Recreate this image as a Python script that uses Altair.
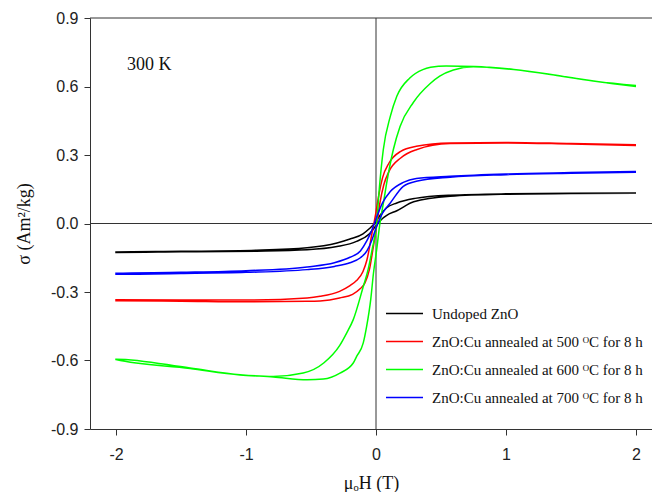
import altair as alt
import pandas as pd

series_names = [
    "Undoped ZnO",
    "ZnO:Cu annealed at 500 ᴼC for 8 h",
    "ZnO:Cu annealed at 600 ᴼC for 8 h",
    "ZnO:Cu annealed at 700 ᴼC for 8 h",
]
series_colors = ["#000000", "#ff0000", "#00ff00", "#0000ff"]

# Undoped ZnO: descending branch (+2 -> -2) then ascending branch (-2 -> +2)
black_desc_x = [2.0, 1.5, 1.0, 0.57, 0.3, 0.16, 0.08, 0.03, 0.0, -0.05, -0.1, -0.2, -0.3, -0.53, -0.92, -1.5, -2.0]
black_desc_y = [0.134, 0.132, 0.130, 0.124, 0.110, 0.090, 0.068, 0.035, 0.008, -0.022, -0.045, -0.068, -0.085, -0.106, -0.117, -0.122, -0.125]
black_asc_x = [-2.0, -1.5, -0.92, -0.53, -0.3, -0.15, -0.05, 0.0, 0.05, 0.08, 0.16, 0.29, 0.57, 1.0, 1.5, 2.0]
black_asc_y = [-0.127, -0.124, -0.121, -0.115, -0.101, -0.078, -0.045, -0.01, 0.022, 0.035, 0.056, 0.095, 0.119, 0.128, 0.131, 0.133]

# 500 C
red_desc_x = [2.0, 1.5, 1.0, 0.57, 0.31, 0.19, 0.1, 0.05, 0.02, 0.0, -0.03, -0.07, -0.1, -0.15, -0.2, -0.28, -0.43, -0.53, -1.0, -1.5, -2.0]
red_desc_y = [0.345, 0.350, 0.355, 0.353, 0.338, 0.316, 0.265, 0.200, 0.120, 0.050, -0.040, -0.160, -0.210, -0.250, -0.272, -0.297, -0.319, -0.326, -0.335, -0.335, -0.334]
red_asc_x = [-2.0, -1.5, -1.0, -0.53, -0.43, -0.28, -0.18, -0.12, -0.085, -0.05, -0.02, 0.0, 0.03, 0.06, 0.1, 0.19, 0.31, 0.57, 1.0, 1.5, 2.0]
red_asc_y = [-0.338, -0.340, -0.343, -0.341, -0.339, -0.326, -0.310, -0.285, -0.260, -0.200, -0.100, -0.030, 0.090, 0.170, 0.228, 0.287, 0.323, 0.350, 0.353, 0.348, 0.342]

# 600 C
green_desc_x = [2.0, 1.7, 1.44, 1.06, 0.76, 0.54, 0.42, 0.36, 0.26, 0.16, 0.11, 0.056, 0.025, 0.005, -0.03, -0.06, -0.1, -0.175, -0.226, -0.28, -0.4, -0.56, -0.79, -1.046, -1.43, -2.0]
green_desc_y = [0.604, 0.622, 0.644, 0.674, 0.688, 0.690, 0.684, 0.674, 0.637, 0.557, 0.469, 0.323, 0.150, 0.000, -0.115, -0.200, -0.280, -0.421, -0.480, -0.535, -0.610, -0.655, -0.670, -0.662, -0.633, -0.594]
green_asc_x = [-2.0, -1.43, -1.046, -0.79, -0.53, -0.405, -0.277, -0.175, -0.149, -0.098, -0.072, -0.04, -0.02, 0.005, 0.03, 0.06, 0.082, 0.133, 0.185, 0.287, 0.415, 0.49, 0.595, 0.75, 1.06, 1.44, 1.7, 2.0]
green_asc_y = [-0.596, -0.635, -0.663, -0.672, -0.684, -0.681, -0.655, -0.611, -0.582, -0.523, -0.451, -0.330, -0.220, -0.115, 0.000, 0.100, 0.177, 0.323, 0.425, 0.530, 0.612, 0.645, 0.672, 0.686, 0.675, 0.644, 0.622, 0.600]

# 700 C
blue_desc_x = [2.0, 1.5, 1.0, 0.57, 0.31, 0.21, 0.11, 0.05, 0.0, -0.04, -0.07, -0.12, -0.2, -0.32, -0.53, -1.0, -1.5, -2.0]
blue_desc_y = [0.228, 0.223, 0.217, 0.207, 0.197, 0.180, 0.140, 0.090, 0.020, -0.040, -0.075, -0.120, -0.148, -0.172, -0.190, -0.207, -0.214, -0.218]
blue_asc_x = [-2.0, -1.5, -1.0, -0.53, -0.32, -0.2, -0.12, -0.07, -0.03, 0.0, 0.05, 0.11, 0.21, 0.31, 0.57, 1.0, 1.5, 2.0]
blue_asc_y = [-0.222, -0.219, -0.214, -0.202, -0.188, -0.172, -0.150, -0.120, -0.070, -0.020, 0.045, 0.090, 0.163, 0.185, 0.203, 0.214, 0.220, 0.224]

x_ticks = [-2, -1, 0, 1, 2]
y_ticks = [-0.9, -0.6, -0.3, 0.0, 0.3, 0.6, 0.9]

rows = []
branches = [
    (series_names[0], black_desc_x + black_asc_x, black_desc_y + black_asc_y),
    (series_names[1], red_desc_x + red_asc_x, red_desc_y + red_asc_y),
    (series_names[2], green_desc_x + green_asc_x, green_desc_y + green_asc_y),
    (series_names[3], blue_desc_x + blue_asc_x, blue_desc_y + blue_asc_y),
]
for name, xs, ys in branches:
    for i, (xv, yv) in enumerate(zip(xs, ys)):
        rows.append({"series": name, "H": xv, "M": yv, "seq": i})
df = pd.DataFrame(rows)

xscale = alt.Scale(domain=[-2.2, 2.123], nice=False, zero=False)
yscale = alt.Scale(domain=[-0.9, 0.9], nice=False, zero=False)

lines = alt.Chart(df).mark_line(strokeWidth=1.5, interpolate="monotone").encode(
    x=alt.X("H:Q", scale=xscale,
            axis=alt.Axis(values=x_ticks, title="μₒH (T)", grid=False,
                          labelExpr="replace(format(datum.value, 'd'), '\u2212', '-')",
                          titleFont="Liberation Serif", titleFontSize=18, titleFontWeight="normal",
                          titlePadding=12, labelPadding=11)),
    y=alt.Y("M:Q", scale=yscale,
            axis=alt.Axis(values=y_ticks, title="σ (Am²/kg)", grid=False,
                          labelExpr="replace(format(datum.value, '.1f'), '\u2212', '-')",
                          titleFont="Liberation Serif", titleFontSize=18, titleFontWeight="normal",
                          titlePadding=17, labelPadding=6)),
    color=alt.Color("series:N", scale=alt.Scale(domain=series_names, range=series_colors),
                    sort=series_names,
                    legend=alt.Legend(title=None, orient="none", legendX=295, legendY=276,
                                      symbolType="stroke", symbolSize=1369, symbolStrokeWidth=1.5,
                                      labelFont="Liberation Serif", labelFontSize=15, labelColor="#111",
                                      labelOffset=8, rowPadding=-13, padding=0, labelLimit=400)),
    order="seq:Q",
)

zero_h = alt.Chart().mark_rule(color="#333", strokeWidth=1).encode(y=alt.datum(0.0))
zero_v = alt.Chart().mark_rule(color="#333", strokeWidth=1).encode(x=alt.datum(0.0))
top_line = alt.Chart().mark_rule(color="#333", strokeWidth=1).encode(y=alt.datum(0.9))

label_df = pd.DataFrame({"H": [-1.915], "M": [0.674], "t": ["300 K"]})
label = alt.Chart(label_df).mark_text(align="left", baseline="alphabetic", font="Liberation Serif",
                                      fontSize=18, color="#111").encode(
    x=alt.X("H:Q", scale=xscale), y=alt.Y("M:Q", scale=yscale), text="t:N")

chart = alt.layer(zero_h, zero_v, top_line, lines, label).properties(
    width=562, height=411,
    autosize=alt.AutoSizeParams(type="none"),
    padding={"left": 82, "top": 10, "right": 0, "bottom": 63},
).configure_view(stroke=None).configure_axis(
    domainColor="#333", domainWidth=1, tickColor="#333", tickSize=6, tickWidth=1,
    labelFont="Liberation Sans", labelFontSize=16, labelColor="#222", titleColor="#111",
)

chart.save("out.html", embed_options={"renderer": "svg", "actions": False})
